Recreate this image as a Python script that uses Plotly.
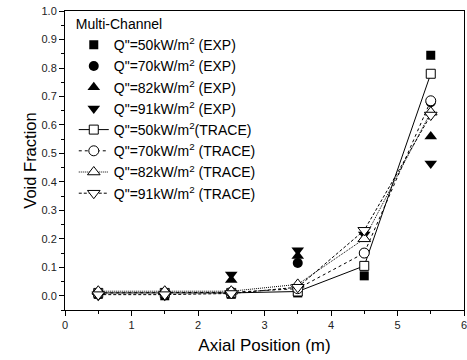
import plotly.graph_objects as go

x = [0.5, 1.5, 2.5, 3.5, 4.5, 5.5]
exp50 = [0.005, 0.0, 0.005, 0.01, 0.07, 0.845]
exp70 = [0.005, 0.005, 0.01, 0.115, 0.15, 0.68]
exp82 = [0.012, 0.012, 0.055, 0.14, 0.2, 0.56]
exp91 = [0.0, 0.0, 0.075, 0.16, 0.215, 0.465]
tr50 = [0.01, 0.01, 0.01, 0.015, 0.105, 0.78]
tr70 = [0.01, 0.01, 0.012, 0.025, 0.15, 0.685]
tr82 = [0.016, 0.016, 0.016, 0.04, 0.2, 0.645]
tr91 = [0.004, 0.004, 0.008, 0.03, 0.23, 0.635]

names_exp = ['Q"=50kW/m<sup>2</sup> (EXP)', 'Q"=70kW/m<sup>2</sup> (EXP)',
             'Q"=82kW/m<sup>2</sup> (EXP)', 'Q"=91kW/m<sup>2</sup> (EXP)']
names_tr = ['Q"=50kW/m<sup>2</sup>(TRACE)', 'Q"=70kW/m<sup>2</sup> (TRACE)',
            'Q"=82kW/m<sup>2</sup> (TRACE)', 'Q"=91kW/m<sup>2</sup> (TRACE)']

fig = go.Figure()
exp_sym = ["square", "circle", "triangle-up", "triangle-down"]
exp_size = [9, 10, 11, 11]
for ys, nm, sym, sz in zip([exp50, exp70, exp82, exp91], names_exp, exp_sym, exp_size):
    fig.add_trace(go.Scatter(x=x, y=ys, mode="markers", name=nm,
                             marker=dict(symbol=sym, size=sz, color="black",
                                         line=dict(width=0))))

tr_sym = ["square", "circle", "triangle-up", "triangle-down"]
tr_size = [9, 10, 11, 11]
tr_dash = ["solid", "dot", "1px,1px", "3px,2px"]
for ys, nm, sym, sz, d in zip([tr50, tr70, tr82, tr91], names_tr, tr_sym, tr_size, tr_dash):
    fig.add_trace(go.Scatter(x=x, y=ys, mode="lines+markers", name=nm,
                             line=dict(color="black", width=1, dash=d),
                             marker=dict(symbol=sym, size=sz, color="white",
                                         line=dict(color="black", width=1))))

axis_common = dict(showline=True, linecolor="black", linewidth=1, mirror=True,
                   showgrid=False, zeroline=False, ticks="outside", ticklen=5,
                   tickcolor="black", tickfont=dict(size=11, color="#222"),
                   ticklabeloverflow="allow")

fig.update_layout(
    width=467, height=360,
    margin=dict(l=65, r=0, t=11, b=50),
    plot_bgcolor="white", paper_bgcolor="white",
    font=dict(family="Liberation Sans, Arial, sans-serif", color="black"),
    showlegend=True,
    legend=dict(x=0.022, y=1.0, xanchor="left", yanchor="top",
                bgcolor="rgba(0,0,0,0)", font=dict(size=14),
                title=dict(text="Multi-Channel", font=dict(size=14)),
                tracegroupgap=0, itemwidth=30),
    xaxis=dict(range=[0, 6], dtick=1, tick0=0,
               minor=dict(dtick=0.5, ticklen=3, ticks="outside", tickcolor="black"),
               title=dict(text="Axial Position (m)", font=dict(size=17), standoff=8),
               **axis_common),
    yaxis=dict(range=[-0.05, 1.0005], dtick=0.1, tick0=0, tickformat=".1f",
               minor=dict(dtick=0.05, ticklen=3, ticks="outside", tickcolor="black"),
               title=dict(text="Void Fraction", font=dict(size=16.5), standoff=0),
               **axis_common),
)

fig.write_html("out.html", config={"displayModeBar": False},
               post_script="document.body.style.margin='0';")
